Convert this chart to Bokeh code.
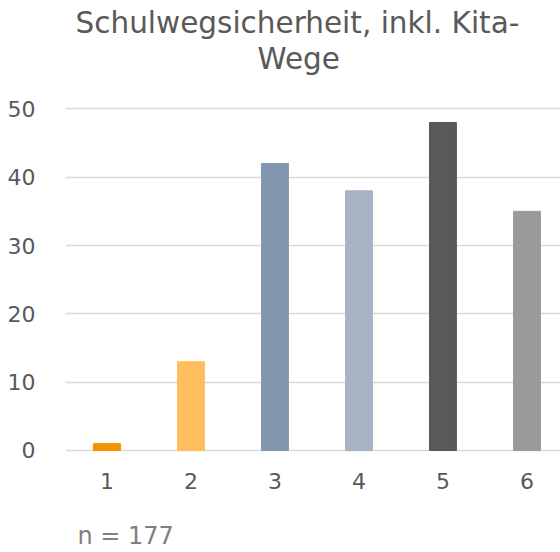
from bokeh.plotting import figure
from bokeh.models import Range1d, FixedTicker, ColumnDataSource, Title
from bokeh.embed import file_html
from bokeh.resources import INLINE

categories = [1, 2, 3, 4, 5, 6]
values = [1, 13, 42, 38, 48, 35]
colors = ["#F39200", "#FFBD5C", "#8497B0", "#A7B4C6", "#595959", "#9A9A9A"]
y_ticks = [0, 10, 20, 30, 40, 50]
title_lines = ["Schulwegsicherheit, inkl. Kita-", "Wege"]
note = "n = 177"

FONT = "DejaVu Sans"
TXT = "#595959"

# frame: left 65, right 560, top 75, bottom 452 (y=0 at 450, 6.833 px per unit)
p = figure(width=560, height=552, output_backend="svg", toolbar_location=None,
           x_range=Range1d(0.506, 6.399), y_range=Range1d(-0.293, 54.88),
           min_border_left=65, min_border_right=0, min_border_top=75, min_border_bottom=100)
p.outline_line_color = None
p.background_fill_color = "white"
p.border_fill_color = "white"

src = ColumnDataSource(dict(x=categories, top=values, color=colors))
p.vbar(x="x", top="top", width=0.32, bottom=0, color="color", source=src)

p.xgrid.visible = False
p.ygrid.grid_line_color = "#D9D9D9"
p.ygrid.grid_line_width = 1.5
p.yaxis.ticker = FixedTicker(ticks=y_ticks)
p.xaxis.ticker = FixedTicker(ticks=categories)
for ax in (p.xaxis, p.yaxis):
    ax.axis_line_color = None
    ax.major_tick_line_color = None
    ax.minor_tick_line_color = None
    ax.major_label_text_font = FONT
    ax.major_label_text_font_size = "22px"
    ax.major_label_text_color = TXT
p.yaxis.major_label_standoff = 24
p.xaxis.major_label_standoff = 14

p.title.text = title_lines[0]
p.title.align = "left"
p.title.offset = 10
p.title.text_font = FONT
p.title.text_font_size = "29.5px"
p.title.text_font_style = "normal"
p.title.text_color = TXT
p.title.standoff = 0

t2 = Title(text=title_lines[1], align="left", offset=192, text_font=FONT,
           text_font_size="29.5px", text_font_style="normal", text_color=TXT, standoff=0)
p.add_layout(t2, "above")

t3 = Title(text="\n" + note, align="left", offset=12, text_font=FONT, text_font_size="24px",
           text_font_style="normal", text_color="#7F7F7F", standoff=0)
p.add_layout(t3, "below")

open("out.html", "w").write(file_html(p, INLINE))
